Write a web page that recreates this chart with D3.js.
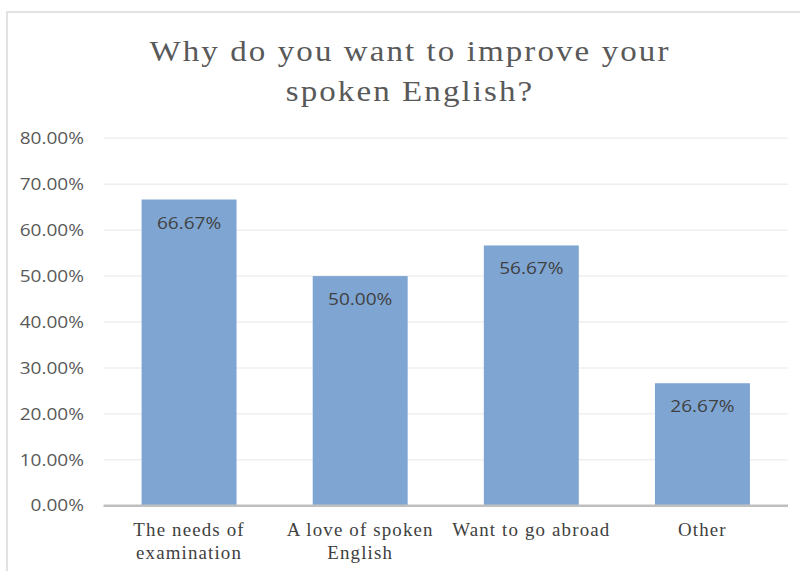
<!DOCTYPE html>
<html><head><meta charset="utf-8">
<script src="https://cdn.jsdelivr.net/npm/d3@7"></script>
<style>body{margin:0;background:#fff}svg{display:block}</style>
</head><body>
<svg id="c" width="800" height="571"></svg>
<script>
const categories = [["The needs of","examination"],["A love of spoken","English"],["Want to go abroad"],["Other"]];
const values = [0.6667, 0.5000, 0.5667, 0.2667];
const valueLabels = ["66.67%","50.00%","56.67%","26.67%"];
const yTicks = [0,0.1,0.2,0.3,0.4,0.5,0.6,0.7,0.8];
const titleLines = ["Why do you want to improve your","spoken English?"];

// horizontal stretch about the anchor x, to mimic the reference's wide glyphs
function stretch(sel, sx){
  sel.each(function(){
    const t = d3.select(this);
    const ax = +t.attr("x") || 0;
    t.attr("transform", `translate(${ax},0) scale(${sx},1) translate(${-ax},0)`);
  });
}

const svg = d3.select("#c");
svg.append("rect").attr("x",7).attr("y",12).attr("width",800).attr("height",600)
  .attr("fill","#fff").attr("stroke","#d9d9d9").attr("stroke-width",1.5);

const x = d3.scaleBand().domain(d3.range(categories.length)).range([103.5,788]).paddingInner(0.445).paddingOuter(0.2225);
const y = d3.scaleLinear().domain([0,0.8]).range([505.7,138.3]);

// gridlines
svg.append("g").selectAll("line").data(yTicks.slice(1)).join("line")
  .attr("x1",103.5).attr("x2",788).attr("y1",d=>y(d)).attr("y2",d=>y(d))
  .attr("stroke","#efefef").attr("stroke-width",1.5);

// y tick labels
const yt = svg.append("g").selectAll("text").data(yTicks).join("text")
  .attr("x",84).attr("y",d=>y(d)).attr("dy","0.36em").attr("text-anchor","end")
  .attr("font-family","'Open Sans', sans-serif").attr("font-size",16).attr("fill","#595959")
  .text(d=>d3.format(".2%")(d));
stretch(yt, 1.19);

// bars
svg.append("g").selectAll("rect").data(values).join("rect")
  .attr("x",(d,i)=>x(i)).attr("width",x.bandwidth())
  .attr("y",d=>y(d)).attr("height",d=>y(0)-y(d))
  .attr("fill","#7fa6d3");

// value labels
const vl = svg.append("g").selectAll("text").data(values).join("text")
  .attr("x",(d,i)=>x(i)+x.bandwidth()/2).attr("y",d=>y(d)+29)
  .attr("text-anchor","middle").attr("font-family","'Open Sans', sans-serif")
  .attr("font-size",16).attr("fill","#404040").text((d,i)=>valueLabels[i]);
stretch(vl, 1.19);

// x axis line
svg.append("line").attr("x1",103.5).attr("x2",788).attr("y1",y(0)).attr("y2",y(0))
  .attr("stroke","#bfbfbf").attr("stroke-width",2.5);

// x labels
const xl = svg.append("g").selectAll("text").data(categories).join("text")
  .attr("x",(d,i)=>x(i)+x.bandwidth()/2)
  .attr("text-anchor","middle").attr("font-family","'Liberation Serif', serif")
  .attr("font-size",18).attr("letter-spacing",1.1).attr("fill","#404040");
xl.each(function(d,i){
  const t = d3.select(this);
  d.forEach((line,j)=>t.append("tspan").attr("x",x(i)+x.bandwidth()/2).attr("y",536+j*23).text(line));
});
stretch(xl, 1.05);

// title
const tt = svg.append("g").selectAll("text").data(titleLines).join("text")
  .attr("x",410).attr("y",(d,i)=>61+i*40).attr("text-anchor","middle")
  .attr("font-family","'Liberation Serif', serif").attr("font-size",30)
  .attr("letter-spacing",1.9).attr("fill","#595959").text(d=>d);
stretch(tt, 1.1);
</script>
</body></html>
